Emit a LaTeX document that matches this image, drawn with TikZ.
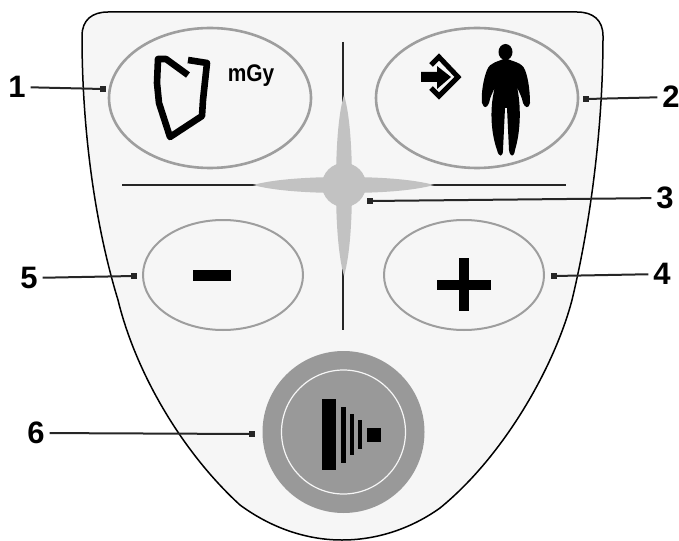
\documentclass[tikz,border=0pt]{standalone}
\usepackage{fontspec}
\setmainfont{Liberation Sans}
\usetikzlibrary{shapes.geometric}
\definecolor{panelfill}{gray}{0.965}
\definecolor{ringgray}{gray}{0.62}
\definecolor{crossgray}{gray}{0.76}
\definecolor{startgray}{gray}{0.6}
\begin{document}
\begin{tikzpicture}[
        x=1pt, y=-1pt,
        softkey/.style={ellipse, draw=ringgray, line width=2.6pt, inner sep=0pt},
        numlabel/.style={font=\fontsize{31}{31}\selectfont\bfseries, inner sep=0pt, outer sep=5pt},
        leader/.style={line width=2pt, black!85},
        tick/.style={fill=black!85, inner sep=0pt, minimum size=5.5pt},
        guide/.style={line width=1.8pt, black!85}
    ]
    \useasboundingbox (0,0) rectangle (679,540);

    % panel
    \draw [fill=panelfill, line width=1.5pt] (82,36) .. controls (82,20) and (92,12) .. (108,12)
        -- (577,12) .. controls (593,12) and (603,20) .. (603,36)
        .. controls (603,130) and (590,225) .. (572,300)
        .. controls (555,365) and (505,455) .. (440,508)
        .. controls (412,528) and (378,540) .. (342,540)
        .. controls (305,540) and (270,527) .. (240,505)
        .. controls (180,450) and (135,370) .. (118,300)
        .. controls (95,225) and (82,130) .. (82,36) -- cycle;

    % guide lines
    \coordinate (guidetop) at (343,42);
    \coordinate (guidebot) at (343,330);
    \coordinate (guideleft) at (122,185);
    \coordinate (guideright) at (566,185);
    \draw [guide] (guidetop) -- (guidebot);
    \draw [guide] (guideleft) -- (guideright);

    % cross
    \fill [crossgray] (344,95) .. controls (338,115) and (336,150) .. (336,185)
        .. controls (336,220) and (338,255) .. (344,276)
        .. controls (350,255) and (352,220) .. (352,185)
        .. controls (352,150) and (350,115) .. (344,95) -- cycle;
    \fill [crossgray] (253,185) .. controls (275,179) and (310,177) .. (344,177)
        .. controls (378,177) and (412,179) .. (434,185)
        .. controls (412,191) and (378,193) .. (344,193)
        .. controls (310,193) and (275,191) .. (253,185) -- cycle;
    \node (hub) [circle, fill=crossgray, minimum size=44pt, inner sep=0pt] at (344,185) {};

    % keys
    \node (dosekey) [softkey, minimum width=202pt, minimum height=140pt] at (210,98) {};
    \node (patkey) [softkey, minimum width=202pt, minimum height=140pt] at (477,98) {};
    \node (minuskey) [softkey, line width=2pt, minimum width=160pt, minimum height=110pt] at (223,275) {};
    \node (pluskey) [softkey, line width=2pt, minimum width=160pt, minimum height=110pt] at (464,275) {};
    \node (startkey) [circle, fill=startgray, minimum size=162pt, inner sep=0pt] at (343.5,432) {};
    \node (startring) [circle, draw=panelfill, line width=1.2pt, minimum size=124pt, inner sep=0pt] at (343.5,432) {};

    % dose icon
    \draw [line width=6.6pt, line join=round] (188,75) -- (166,59) -- (158,59) -- (157,83) -- (159,103) -- (170,137)
        -- (202,116) -- (203,100) -- (207,63) -- (188,60);
    \node (mgy) [font=\fontsize{24}{24}\selectfont\bfseries, inner sep=0pt, transform shape, xscale=0.87] at (251,76) {mGy};

    % patient icon
    \draw [line width=5pt, line join=miter] (431,65) -- (439,57) -- (458,77) -- (439,96) -- (431,88);
    \fill (421,72) -- (437,72) -- (437,66) -- (451,77) -- (437,89) -- (437,82) -- (421,82) -- cycle;
    \fill (505.5,52) circle [x radius=7, y radius=8];
    \fill (505.5,58) .. controls (498,62) and (490,62) .. (487,70)
        .. controls (483,80) and (481,95) .. (482,103) .. controls (484,109) and (487,108) .. (489,103)
        .. controls (490,97) and (493,92) .. (495,87)
        .. controls (490,105) and (490,130) .. (497,150) .. controls (499,158) and (503,157) .. (503,150)
        -- (505,108) -- (507,108) -- (509,150) .. controls (510,157) and (514,158) .. (515,150)
        .. controls (521,130) and (521,105) .. (517,87)
        .. controls (519,92) and (522,97) .. (523,103) .. controls (525,108) and (529,109) .. (530,103)
        .. controls (530,95) and (529,80) .. (525,70)
        .. controls (522,62) and (513,62) .. (505.5,58) -- cycle;

    % minus and plus
    \fill (193,270) rectangle (231,281);
    \fill (437,280) rectangle (491,290);
    \fill (459,258) rectangle (469,311);

    % start icon
    \fill (322,399) rectangle (336,470);
    \fill (341,407) rectangle (345.5,463);
    \fill (350,414) rectangle (353.5,455);
    \fill (358,420) rectangle (361.5,449);
    \fill (367,428) rectangle (381,442);

    % labels
    \node (n1) [numlabel] at (17,87) {1};
    \node (n2) [numlabel] at (671,97) {2};
    \node (n3) [numlabel] at (665,198) {3};
    \node (n4) [numlabel] at (662,274) {4};
    \node (n5) [numlabel] at (29,278) {5};
    \node (n6) [numlabel] at (36,433) {6};

    % leaders
    \node (t1) [tick] at (103,89) {};
    \node (t2) [tick] at (586,99) {};
    \node (t3) [tick] at (370,201) {};
    \node (t4) [tick] at (554,276) {};
    \node (t5) [tick] at (134,276) {};
    \node (t6) [tick] at (252,434) {};
    \draw [leader] (n1) -- (t1);
    \draw [leader] (n2) -- (t2);
    \draw [leader] (n3) -- (t3);
    \draw [leader] (n4) -- (t4);
    \draw [leader] (n5) -- (t5);
    \draw [leader] (n6) -- (t6);
\end{tikzpicture}
\end{document}
